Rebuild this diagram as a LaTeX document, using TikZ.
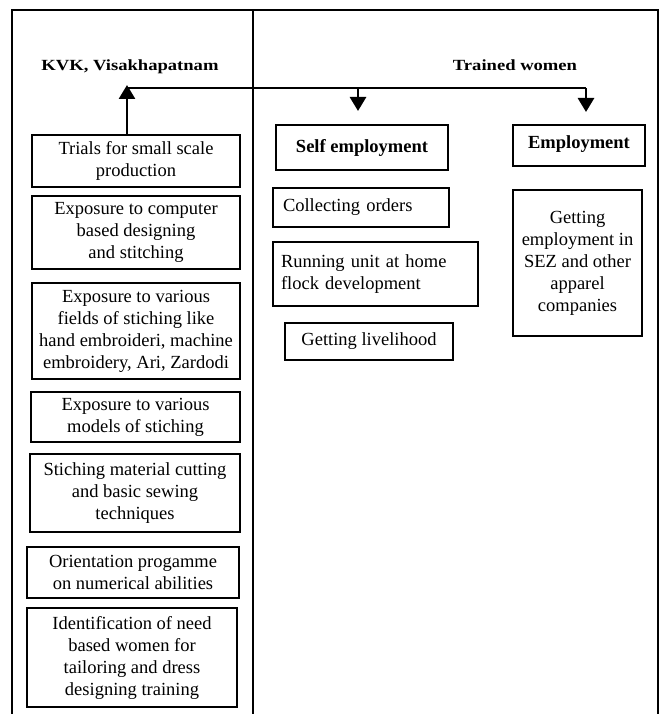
\documentclass[tikz,border=0pt]{standalone}
\usepackage{fontspec}
\setmainfont{Liberation Serif}
\usetikzlibrary{arrows.meta}
\tikzset{
  box/.style={draw, line width=2pt, anchor=north west, inner sep=0pt, outer sep=0pt,
    font=\fontsize{18.5}{22}\selectfont, align=center},
  boldbox/.style={box, font=\fontsize{18.5}{22}\selectfont\bfseries},
  head/.style={font=\fontsize{15.5}{18}\selectfont\bfseries, inner sep=0pt, anchor=base},
  frame/.style={line width=2.6pt},
  conn/.style={line width=2.8pt},
  tip/.style={-{Triangle[width=16pt,length=14pt]}}
}
\begin{document}
\begin{tikzpicture}[x=1pt,y=-1pt]
\useasboundingbox (0,0) rectangle (660,714);
% frame
\draw[frame] (12,714) -- (12,10) -- (658,10) -- (658,714);
\draw[frame] (253,10) -- (253,714);
% headings
\node[head] (kvk) at (130,71) {\scalebox{1.2}[1]{KVK, Visakhapatnam}};
\node[head] (tw) at (515,71) {\scalebox{1.2}[1]{Trained women}};
% left column
\node[box, minimum width=208pt, minimum height=52pt] (b1) at (32,135) {Trials for small scale\\production};
\node[box, minimum width=208pt, minimum height=73pt] (b2) at (32,196) {Exposure to computer\\based designing\\and stitching};
\node[box, minimum width=208pt, minimum height=96pt] (b3) at (32,283) {Exposure to various\\fields of stiching like\\hand embroideri, machine\\embroidery, Ari, Zardodi};
\node[box, minimum width=209pt, minimum height=50pt] (b4) at (31,392) {Exposure to various\\models of stiching};
\node[box, minimum width=210pt, minimum height=78pt] (b5) at (30,454) {Stiching material cutting\\and basic sewing\\techniques};
\node[box, minimum width=212pt, minimum height=51pt] (b6) at (27,547) {Orientation progamme\\on numerical abilities};
\node[box, minimum width=210pt, minimum height=99pt] (b7) at (27,608) {Identification of need\\based women for\\tailoring and dress\\designing training};
% right side
\node[boldbox, minimum width=172pt, minimum height=45pt] (self) at (276,125) {Self employment};
\node[box, align=left, inner xsep=10pt, text width=156pt, minimum height=39pt] (coll) at (273,188) {Collecting orders};
\node[box, align=left, inner xsep=8pt, text width=189pt, minimum height=64pt] (run) at (273,242) {\makebox[189pt][s]{Running unit at home}\\flock development};
\node[box, minimum width=168pt, minimum height=37pt] (live) at (285,323) {Getting livelihood};
\node[boldbox, minimum width=132pt, minimum height=41pt, text depth=6pt] (emp) at (513,125) {Employment};
\node[box, minimum width=129pt, minimum height=146pt] (sez) at (513,190) {Getting\\employment in\\SEZ and other\\apparel\\companies};
% connectors
\coordinate (jl) at (127,88);
\coordinate (js) at (358,88);
\coordinate (je) at (586,88);
\draw[conn, tip] (b1.north -| jl) -- ([yshift=3pt]jl);
\draw[conn] (jl) -- (je);
\draw[conn, tip] (js) -- ([yshift=14pt]self.north -| js);
\draw[conn, tip] (je) -- ([yshift=13pt]emp.north -| je);
\end{tikzpicture}
\end{document}
